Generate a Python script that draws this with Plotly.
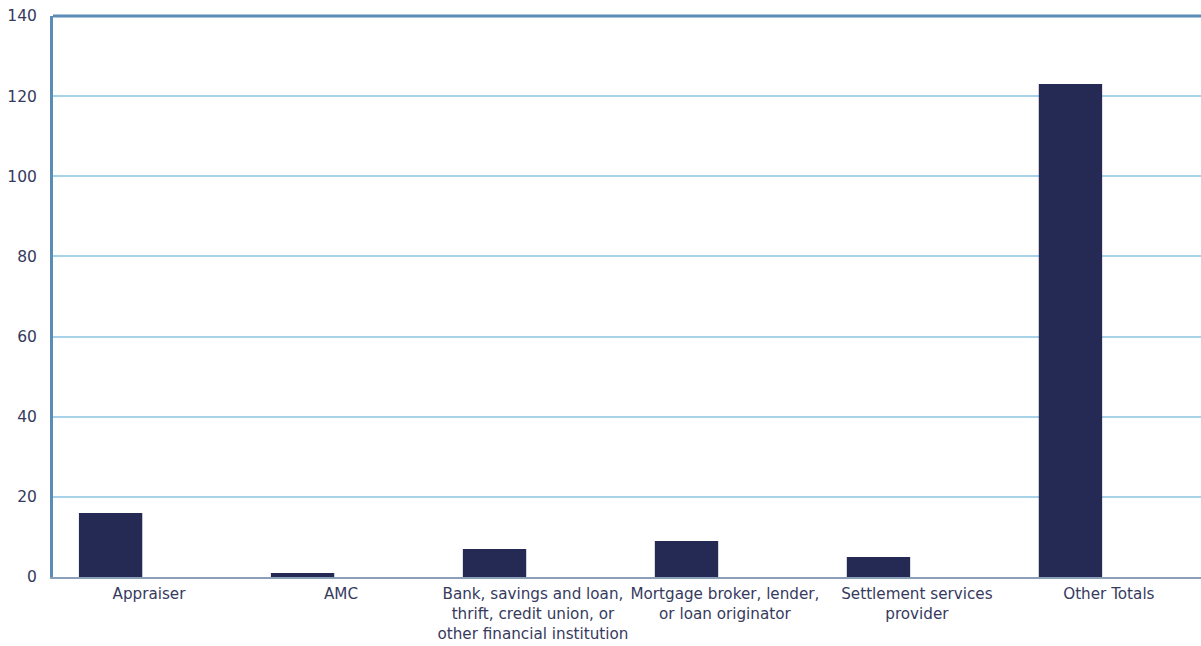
import plotly.graph_objects as go

categories = [
    "Appraiser",
    "AMC",
    "Bank, savings and loan,<br>thrift, credit union, or<br>other financial institution",
    "Mortgage broker, lender,<br>or loan originator",
    "Settlement services<br>provider",
    "Other Totals",
]
counts = [16, 1, 7, 9, 5, 123]
y_ticks = [0, 20, 40, 60, 80, 100, 120, 140]

navy = "#252a55"
text_color = "#363a5e"

fig = go.Figure(
    go.Bar(
        x=categories,
        y=counts,
        marker=dict(color=navy, line=dict(width=0)),
        width=0.33,
        offset=-0.365,
        hoverinfo="x+y",
    )
)

fig.update_layout(
    width=1201,
    height=646,
    margin=dict(l=53, r=0, t=16, b=69),
    paper_bgcolor="white",
    plot_bgcolor="white",
    showlegend=False,
    font=dict(family="DejaVu Sans, sans-serif", size=15, color=text_color),
    shapes=[
        dict(type="line", xref="paper", yref="paper", x0=0, x1=1, y0=1, y1=1,
             line=dict(color="#5a8cb5", width=3)),
    ],
)

fig.update_xaxes(
    type="category",
    range=[-0.5, 5.48],
    showline=True,
    linecolor="#8aa0b8",
    linewidth=2,
    showgrid=False,
    ticks="",
    tickangle=0,
    automargin=False,
    ticklabelstandoff=2,
    tickfont=dict(size=15.2, color=text_color),
)

fig.update_yaxes(
    range=[0, 140],
    tickvals=y_ticks,
    showline=True,
    linecolor="#5a8cb5",
    linewidth=3,
    showgrid=True,
    gridcolor="#a8d2ea",
    gridwidth=1.5,
    zeroline=False,
    ticks="",
    automargin=False,
    ticklabelstandoff=10,
    tickfont=dict(size=15.5, color=text_color),
)

fig.write_html("out.html")
